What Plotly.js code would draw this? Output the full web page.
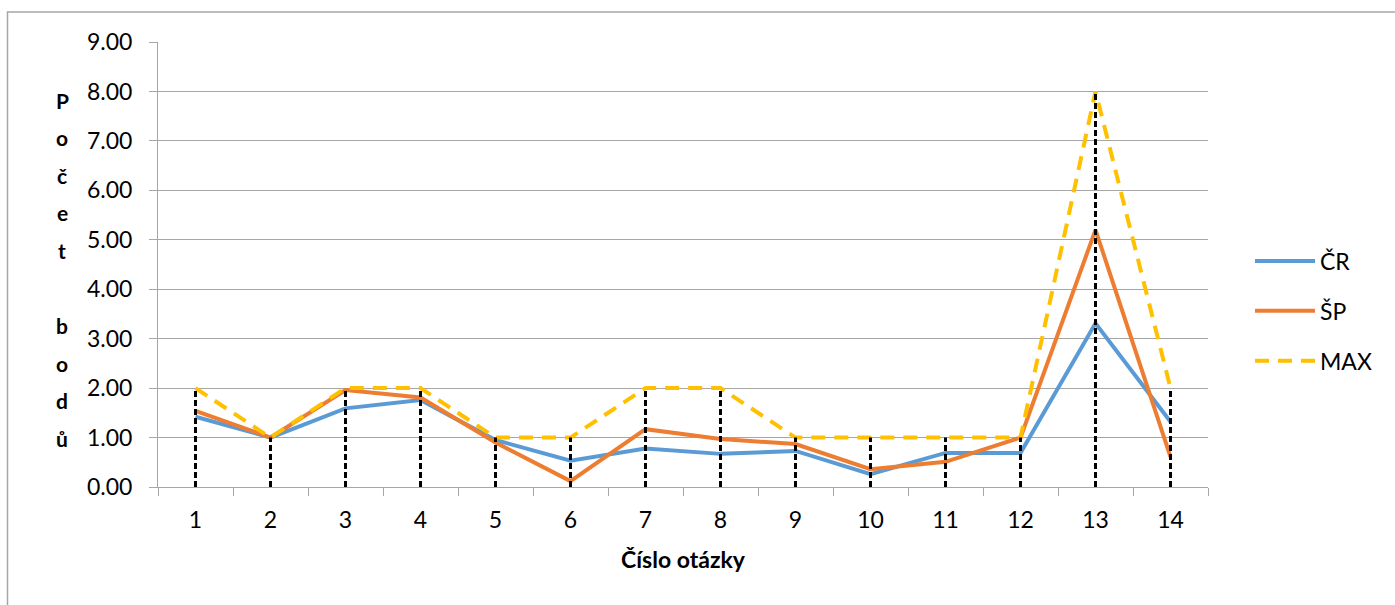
<!DOCTYPE html>
<html>
<head>
<meta charset="utf-8">
<script src="https://cdn.plot.ly/plotly-3.0.1.min.js"></script>
<style>html,body{margin:0;padding:0;background:#fff;}#chart{width:1395px;height:605px;}</style>
</head>
<body>
<div id="chart"></div>
<script>
// ---- data ----
const questions = ["1","2","3","4","5","6","7","8","9","10","11","12","13","14"];
const cr  = [1.42, 1.00, 1.59, 1.76, 0.95, 0.53, 0.78, 0.67, 0.73, 0.26, 0.69, 0.69, 3.31, 1.32];
const sp  = [1.54, 1.00, 1.96, 1.81, 0.90, 0.12, 1.17, 0.97, 0.87, 0.36, 0.51, 1.00, 5.20, 0.61];
const max = [2, 1, 2, 2, 1, 1, 2, 2, 1, 1, 1, 1, 8, 2];
const seriesNames = ["ČR", "ŠP", "MAX"];
const yTickVals = [0,1,2,3,4,5,6,7,8,9];
const yTickText = ["0.00","1.00","2.00","3.00","4.00","5.00","6.00","7.00","8.00","9.00"];
const xTitle = "Číslo otázky";
const yTitle = "Počet bodů";

const FONT = "Lato, 'Open Sans', sans-serif";

// drop lines from axis to highest value of each category
const dropX = [], dropY = [];
questions.forEach((q, i) => {
  const top = Math.max(cr[i], sp[i], max[i]);
  dropX.push(q, q, null);
  dropY.push(0, top, null);
});

const traces = [
  {x: questions, y: cr, name: seriesNames[0], type: "scatter", mode: "lines",
   line: {color: "#5B9BD5", width: 4}, legendgroup: "a"},
  {x: questions, y: sp, name: seriesNames[1], type: "scatter", mode: "lines",
   line: {color: "#ED7D31", width: 4}, legendgroup: "b"},
  {x: questions, y: max, name: seriesNames[2], type: "scatter", mode: "lines",
   line: {color: "#FFC000", width: 4, dash: "14px,9px"}, legendgroup: "c"},
  {x: dropX, y: dropY, type: "scatter", mode: "lines", showlegend: false, hoverinfo: "skip",
   line: {color: "#000000", width: 3, dash: "6px,3px"}, connectgaps: false}
];

// plot area geometry (px) for paper placement of the stacked y title
const W = 1395, H = 605, mL = 158, mR = 187, mT = 42, mB = 118;
const pw = W - mL - mR, ph = H - mT - mB;
const toPX = px => (px - mL) / pw;
const toPY = py => (H - mB - py) / ph;

const annotations = [];
Array.from(yTitle).forEach((ch, i) => {
  if (ch === " ") return;
  annotations.push({
    text: ch, xref: "paper", yref: "paper", x: toPX(62), y: toPY(100 + i * 37.6),
    xanchor: "center", yanchor: "middle", showarrow: false,
    font: {family: FONT, size: 21, color: "#000", weight: "bold"}
  });
});

const layout = {
  width: W, height: H,
  margin: {l: mL, r: mR, t: mT, b: mB},
  paper_bgcolor: "#ffffff", plot_bgcolor: "#ffffff",
  showlegend: true,
  font: {family: FONT, color: "#000"},
  xaxis: {
    type: "category", range: [-0.5, questions.length - 0.5],
    tickson: "boundaries", ticks: "outside", ticklen: 8, tickcolor: "#a6a6a6",
    showline: true, linecolor: "#a6a6a6", linewidth: 1, showgrid: false, zeroline: false,
    tickfont: {family: FONT, size: 23, color: "#000"}, ticklabelstandoff: 12,
    title: {text: xTitle, font: {family: FONT, size: 23, color: "#000", weight: "bold"}, standoff: 20},
    fixedrange: true
  },
  yaxis: {
    range: [0, 9], tickvals: yTickVals, ticktext: yTickText, ticks: "outside", ticklen: 8,
    tickcolor: "#a6a6a6", showline: true, linecolor: "#a6a6a6", linewidth: 1,
    showgrid: true, gridcolor: "#a6a6a6", gridwidth: 1, zeroline: false,
    tickfont: {family: FONT, size: 23, color: "#000"}, ticklabelstandoff: 12,
    fixedrange: true
  },
  legend: {
    x: toPX(1250), xanchor: "left", y: toPY(311), yanchor: "middle",
    font: {family: FONT, size: 23, color: "#000"}, tracegroupgap: 17,
    traceorder: "grouped", bgcolor: "rgba(0,0,0,0)", itemwidth: 60
  },
  annotations: annotations,
  shapes: [{
    type: "rect", xref: "paper", yref: "paper", layer: "below",
    x0: toPX(7.5), x1: toPX(1420), y0: toPY(640), y1: toPY(12),
    line: {color: "#a6a6a6", width: 1.5}, fillcolor: "rgba(0,0,0,0)"
  }]
};

Plotly.newPlot("chart", traces, layout, {displayModeBar: false, staticPlot: true});
</script>
</body>
</html>
